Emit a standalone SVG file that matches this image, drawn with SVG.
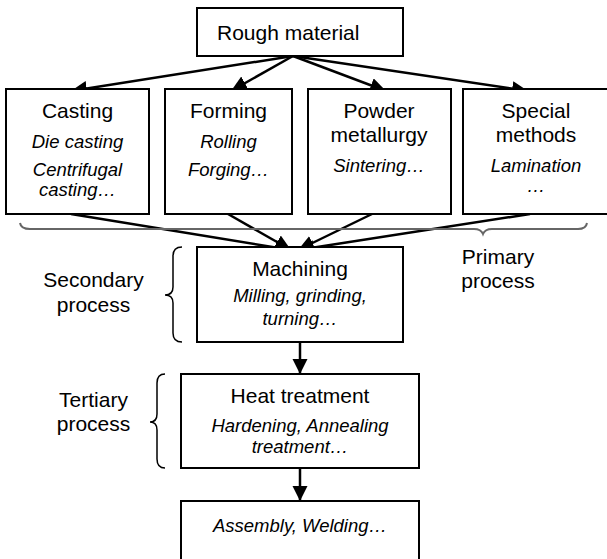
<svg xmlns="http://www.w3.org/2000/svg" width="607" height="559" viewBox="0 0 607 559">
<style>
  .box { fill: #fff; stroke: #000; stroke-width: 2; }
  .t { font-family: "Liberation Sans", Arial, sans-serif; font-size: 21px; fill: #000; text-anchor: middle; }
  .i { font-family: "Liberation Sans", Arial, sans-serif; font-size: 18.5px; font-style: italic; fill: #000; text-anchor: middle; }
  .conn { stroke: #000; stroke-width: 2.5; fill: none; marker-end: url(#ah); }
  .vconn { stroke: #000; stroke-width: 2.5; fill: none; marker-end: url(#av); }
  .brace { fill: none; stroke: #000; stroke-width: 1.5; }
  .gbrace { fill: none; stroke: #666; stroke-width: 2; }
</style>
<defs>
  <marker id="ah" markerUnits="userSpaceOnUse" markerWidth="17" markerHeight="16" refX="16" refY="7.5" orient="auto">
    <path d="M0,0 L16,7.5 L0,15 Z" fill="#000"/>
  </marker>
  <marker id="av" markerUnits="userSpaceOnUse" markerWidth="16" markerHeight="16" refX="15" refY="7.5" orient="auto">
    <path d="M0,0 L15,7.5 L0,15 Z" fill="#000"/>
  </marker>
</defs>
<g id="connectors">
  <line class="conn" x1="293" y1="56" x2="71" y2="91"/>
  <line class="conn" x1="293" y1="56" x2="231" y2="91"/>
  <line class="conn" x1="293" y1="56" x2="386" y2="91"/>
  <line class="conn" x1="293" y1="56" x2="528" y2="91"/>
  <line class="conn" x1="71" y1="214" x2="291" y2="250"/>
  <line class="conn" x1="228" y1="214" x2="291" y2="250"/>
  <line class="conn" x1="372" y1="214" x2="298" y2="250"/>
  <line class="conn" x1="530" y1="214" x2="298" y2="250"/>
  <line class="vconn" x1="300" y1="342" x2="300" y2="374"/>
  <line class="vconn" x1="300" y1="468" x2="300" y2="501"/>
</g>
<g id="rough">
  <rect class="box" x="197" y="8" width="206" height="48"/>
  <text class="t" x="217" y="40" style="text-anchor:start">Rough material</text>
</g>
<g id="casting">
  <rect class="box" x="6" y="89" width="143" height="125"/>
  <text class="t" x="77.5" y="118">Casting</text>
  <text class="i" x="77.5" y="148">Die casting</text>
  <text class="i" x="77.5" y="176">Centrifugal</text>
  <text class="i" x="77.5" y="196">casting…</text>
</g>
<g id="forming">
  <rect class="box" x="165" y="89" width="127" height="125"/>
  <text class="t" x="228.5" y="118">Forming</text>
  <text class="i" x="228.5" y="148">Rolling</text>
  <text class="i" x="228.5" y="176">Forging…</text>
</g>
<g id="powder">
  <rect class="box" x="308" y="89" width="143" height="125"/>
  <text class="t" x="379" y="118">Powder</text>
  <text class="t" x="379" y="142">metallurgy</text>
  <text class="i" x="379" y="172">Sintering…</text>
</g>
<g id="special">
  <rect class="box" x="463" y="89" width="146" height="125"/>
  <text class="t" x="536" y="118">Special</text>
  <text class="t" x="536" y="142">methods</text>
  <text class="i" x="536" y="172">Lamination</text>
  <text class="i" x="536" y="192">…</text>
</g>
<g id="primary-label">
  <path class="gbrace" d="M20,223 Q21,229 30,229 L474,229 Q481,229 483,234 Q485,229 492,229 L578,229 Q586,229 587,223"/>
  <text class="t" x="498" y="264">Primary</text>
  <text class="t" x="498" y="288">process</text>
</g>
<g id="machining">
  <rect class="box" x="197" y="247" width="206" height="95"/>
  <text class="t" x="300" y="276">Machining</text>
  <text class="i" x="300" y="302">Milling, grinding,</text>
  <text class="i" x="300" y="325">turning…</text>
</g>
<g id="secondary-label">
  <path class="brace" d="M182,247 Q173,247 173,256 L173,287 Q173,295 165,295 Q173,295 173,303 L173,333 Q173,342 182,342"/>
  <text class="t" x="93.5" y="287">Secondary</text>
  <text class="t" x="93.5" y="312">process</text>
</g>
<g id="heat">
  <rect class="box" x="181" y="374" width="238" height="94"/>
  <text class="t" x="300" y="403">Heat treatment</text>
  <text class="i" x="300" y="432">Hardening, Annealing</text>
  <text class="i" x="300" y="453">treatment…</text>
</g>
<g id="tertiary-label">
  <path class="brace" d="M165,374 Q157,374 157,383 L157,414 Q157,422 150,422 Q157,422 157,430 L157,459 Q157,468 165,468"/>
  <text class="t" x="93.5" y="407">Tertiary</text>
  <text class="t" x="93.5" y="431">process</text>
</g>
<g id="assembly">
  <rect class="box" x="181" y="501" width="238" height="66"/>
  <text class="i" x="300" y="532">Assembly, Welding…</text>
</g>
</svg>
